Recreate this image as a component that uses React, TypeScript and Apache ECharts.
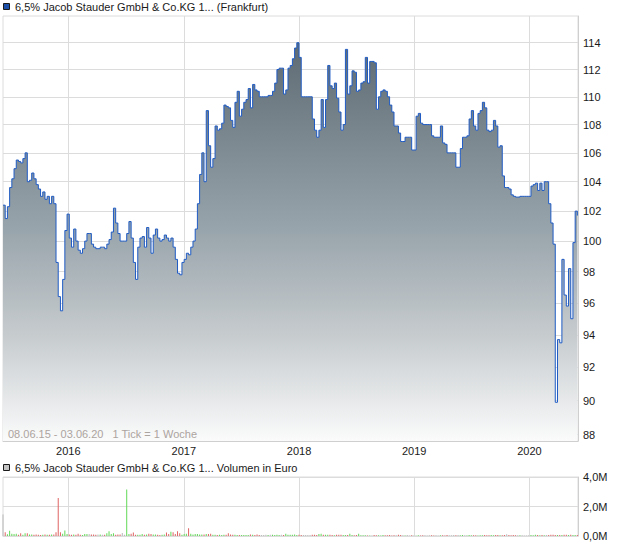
import React, { useEffect, useRef } from 'react';
import * as echarts from 'echarts';

// ---- data ----
const startDate = '2015-06-08';
const endDate = '2020-06-03';
const yearTicks = [2016, 2017, 2018, 2019, 2020];
const priceTicks = [88, 90, 92, 94, 96, 98, 100, 102, 104, 106, 108, 110, 112, 114];
const volumeTicks = [0, 2000, 4000];
const seriesName = '6,5% Jacob Stauder GmbH & Co.KG 1... (Frankfurt)';
const volumeName = '6,5% Jacob Stauder GmbH & Co.KG 1... Volumen in Euro';
const footerText = '08.06.15 - 03.06.20   1 Tick = 1 Woche';

// weekly closing prices (log scale chart)
const prices = [
  102.4, 101.5, 102.3, 103.6, 104.2, 104.9, 105.5, 105.4, 105.3, 105.6,
  106.0, 104.0, 104.1, 104.6, 104.2, 103.8, 103.5, 103.0, 103.3, 102.8,
  103.0, 102.5, 103.0, 102.5, 98.6, 96.4, 95.5, 97.5, 100.7, 101.8,
  100.2, 99.6, 100.8, 100.0, 99.4, 99.2, 99.5, 100.0, 100.5, 100.5,
  99.8, 99.6, 99.5, 99.5, 99.6, 99.6, 99.5, 99.8, 100.1, 100.6,
  102.2, 101.2, 100.5, 100.0, 100.0, 100.0, 100.5, 101.3, 100.2, 98.6,
  97.5, 99.6, 100.2, 100.3, 99.6, 100.9, 100.2, 99.2, 100.4, 100.8,
  100.2, 100.0, 100.1, 100.4, 100.2, 100.0, 100.2, 99.6, 98.8, 97.9,
  97.8, 98.6, 98.8, 99.2, 99.1, 99.6, 100.0, 100.8, 102.5, 104.5,
  106.0, 104.0, 109.0, 106.5, 105.0, 105.6, 107.9, 107.6, 107.7, 108.1,
  109.4, 109.3, 109.2, 108.3, 107.8, 109.6, 110.4, 108.6, 109.1, 109.6,
  109.8, 110.6, 109.2, 110.9, 110.5, 110.4, 110.0, 110.0, 110.0, 110.0,
  110.1, 110.1, 110.4, 111.0, 112.0, 112.1, 112.1, 110.2, 110.5, 112.1,
  112.3, 112.8, 113.6, 114.0, 112.9, 110.0, 110.0, 110.0, 110.0, 110.0,
  108.4, 107.6, 107.1, 107.6, 109.8, 107.8, 109.8, 112.3, 110.8, 110.6,
  111.0, 109.9, 108.9, 107.6, 108.0, 113.5, 110.2, 110.8, 111.9, 111.8,
  110.4, 110.5, 111.0, 111.1, 112.9, 111.0, 112.6, 112.6, 112.5, 109.1,
  110.0, 110.4, 110.5, 110.4, 110.0, 109.4, 108.9, 107.9, 107.9, 107.4,
  106.8, 106.8, 107.1, 107.1, 107.1, 106.2, 106.2, 108.6, 108.8, 108.1,
  108.0, 108.0, 108.0, 108.0, 107.2, 107.1, 107.1, 107.1, 107.9, 106.7,
  106.6, 106.0, 106.0, 106.0, 106.0, 105.0, 105.0, 106.3, 107.1, 107.1,
  107.2, 108.4, 109.0, 107.9, 107.6, 108.8, 109.0, 109.6, 109.2, 107.6,
  107.5, 107.6, 108.3, 107.9, 106.4, 106.5, 104.4, 103.6, 103.6, 103.5,
  103.1, 103.0, 102.95, 102.95, 103.0, 103.0, 103.0, 103.0, 103.0, 103.7,
  103.8, 103.9, 103.4, 103.9, 103.4, 104.0, 104.0, 102.5, 101.2, 99.8,
  89.9, 93.7, 93.5, 98.8, 96.5, 95.8, 98.2, 95.0, 99.9, 102.0, 101.7,
];

// weekly volume in thousand euro
const volumesK = [
  1450, 250, 120, 360, 160, 140, 160, 90, 180, 90,
  180, 180, 110, 110, 90, 110, 90, 70, 90, 110,
  90, 90, 110, 110, 250, 2580, 250, 160, 380, 140,
  110, 90, 110, 90, 160, 90, 70, 140, 140, 140,
  110, 110, 90, 110, 110, 90, 90, 180, 320, 140,
  180, 90, 110, 110, 200, 90, 3150, 140, 160, 230,
  90, 90, 90, 140, 90, 110, 160, 140, 110, 110,
  90, 70, 90, 110, 230, 140, 290, 250, 140, 320,
  180, 90, 140, 160, 520, 160, 110, 140, 140, 110,
  110, 110, 140, 140, 160, 90, 90, 70, 90, 70,
  90, 90, 180, 110, 90, 90, 70, 70, 70, 70,
  70, 70, 110, 90, 70, 110, 70, 70, 70, 90,
  70, 90, 90, 70, 90, 70, 90, 70, 160, 90,
  90, 90, 110, 70, 90, 70, 70, 70, 70, 70,
  90, 90, 68, 136, 158, 90, 90, 90, 90, 68,
  45, 90, 90, 90, 68, 68, 68, 158, 68, 45,
  60, 158, 45, 45, 45, 30, 30, 30, 68, 45,
  45, 30, 68, 45, 45, 68, 30, 45, 45, 90,
  68, 45, 30, 68, 30, 45, 30, 25, 45, 30,
  45, 45, 30, 45, 45, 30, 45, 30, 45, 45,
  30, 68, 45, 45, 68, 45, 68, 45, 68, 45,
  30, 68, 45, 45, 45, 30, 45, 45, 68, 45,
  45, 68, 45, 68, 68, 45, 45, 68, 113, 68,
  45, 68, 45, 45, 45, 45, 30, 30, 45, 68,
  45, 90, 68, 45, 68, 45, 68, 68, 90, 90,
  68, 68, 68, 68, 90, 90, 68, 90, 68, 68, 68,
];

const FONT = '"Liberation Sans", Arial, Helvetica, sans-serif';

export default function App() {
  const ref = useRef<HTMLDivElement>(null);

  useEffect(() => {
    if (!ref.current) return;
    const chart = echarts.init(ref.current, null, { renderer: 'svg' });

    const startTs = Date.parse(startDate + 'T00:00:00Z');
    const endTs = Date.parse(endDate + 'T00:00:00Z');
    const weekMs = 7 * 86400000;
    const dates = prices.map((_, i) => startTs + i * weekMs);
    const yearTs = yearTicks.map((y) => Date.UTC(y, 0, 1));

    const lineData = prices.map((p, i) => [dates[i], p]);
    const barData = volumesK.map((v, i) => {
      let color = '#b9b9b9';
      if (i > 0 && prices[i] > prices[i - 1]) color = '#62d957';
      else if (i > 0 && prices[i] < prices[i - 1]) color = '#e06464';
      return { value: [dates[i], v], itemStyle: { color } };
    });

    const labelStyle = { color: '#1a1a1a', fontSize: 11, fontFamily: FONT };
    const gridLine = { show: true, lineStyle: { color: '#dcdcdc', width: 1 } };

    const option: any = {
      animation: false,
      backgroundColor: '#ffffff',
      grid: [
        { left: 3, right: 42, top: 16, height: 425, show: true, borderColor: '#dcdcdc', borderWidth: 1, outerBoundsMode: 'none', containLabel: false },
        { left: 3, right: 42, top: 477, height: 59, show: true, borderColor: '#dcdcdc', borderWidth: 1, outerBoundsMode: 'none', containLabel: false },
      ],
      xAxis: [
        {
          type: 'value', gridIndex: 0, min: startTs, max: endTs, scale: true,
          axisLine: { show: true, lineStyle: { color: '#cfcfcf' } },
          axisTick: { show: false, customValues: yearTs },
          axisLabel: {
            ...labelStyle, margin: 4, customValues: yearTs, hideOverlap: false,
            formatter: (v: number) => String(new Date(v).getUTCFullYear()),
          },
          splitLine: gridLine,
        },
        {
          type: 'value', gridIndex: 1, min: startTs, max: endTs, scale: true,
          axisLine: { show: true, lineStyle: { color: '#dcdcdc' } },
          axisTick: { show: false, customValues: yearTs },
          axisLabel: { show: false, customValues: yearTs },
          splitLine: gridLine,
        },
      ],
      yAxis: [
        {
          type: 'log', gridIndex: 0, position: 'right', min: 87.63, max: 116.03, logBase: 10,
          axisLine: { show: true, lineStyle: { color: '#cfcfcf' } },
          axisTick: { show: false, customValues: priceTicks },
          axisLabel: {
            ...labelStyle, margin: 5, customValues: priceTicks,
            formatter: (v: number) => String(Math.round(v)),
          },
          splitLine: gridLine,
        },
        {
          type: 'value', gridIndex: 1, position: 'right', min: 0, max: 4000, interval: 2000,
          axisLine: { show: true, lineStyle: { color: '#cfcfcf' } },
          axisTick: { show: false },
          axisLabel: {
            ...labelStyle, margin: 5,
            formatter: (v: number) => (v / 1000).toFixed(1).replace('.', ',') + 'M',
          },
          splitLine: gridLine,
        },
      ],
      series: [
        {
          type: 'line', name: seriesName, xAxisIndex: 0, yAxisIndex: 0,
          data: lineData, step: 'end', showSymbol: false, symbol: 'none',
          lineStyle: { color: '#1f5bc4', width: 1 },
          areaStyle: {
            origin: 'start', opacity: 1,
            color: new echarts.graphic.LinearGradient(0, 16, 0, 441, [
              { offset: 0, color: '#55626b' },
              { offset: 0.5, color: '#98a4ab' },
              { offset: 0.75, color: '#c6cbce' },
              { offset: 1, color: '#fbfbfb' },
            ], true),
          },
          z: 3,
        },
        {
          type: 'bar', name: volumeName, xAxisIndex: 1, yAxisIndex: 1,
          data: barData, barWidth: 1, barGap: '0%',
        },
      ],
      graphic: [
        { type: 'rect', left: 3, top: 3, shape: { width: 6, height: 6 }, style: { fill: '#1c4fa8', stroke: '#1a1a1a', lineWidth: 1 } },
        { type: 'text', left: 15, top: 1, style: { text: seriesName, fill: '#1a1a1a', font: `11px ${FONT}` } },
        { type: 'rect', left: 3, top: 464, shape: { width: 6, height: 6 }, style: { fill: '#c4c4c4', stroke: '#1a1a1a', lineWidth: 1 } },
        { type: 'text', left: 15, top: 462, style: { text: volumeName, fill: '#1a1a1a', font: `11px ${FONT}` } },
        { type: 'text', left: 8, top: 428, style: { text: footerText, fill: '#aca49f', font: `11px ${FONT}` }, z: 10 },
      ],
    };

    chart.setOption(option);
    return () => chart.dispose();
  }, []);

  return <div ref={ref} style={{ position: 'fixed', left: 0, top: 0, width: 620, height: 546 }} />;
}
